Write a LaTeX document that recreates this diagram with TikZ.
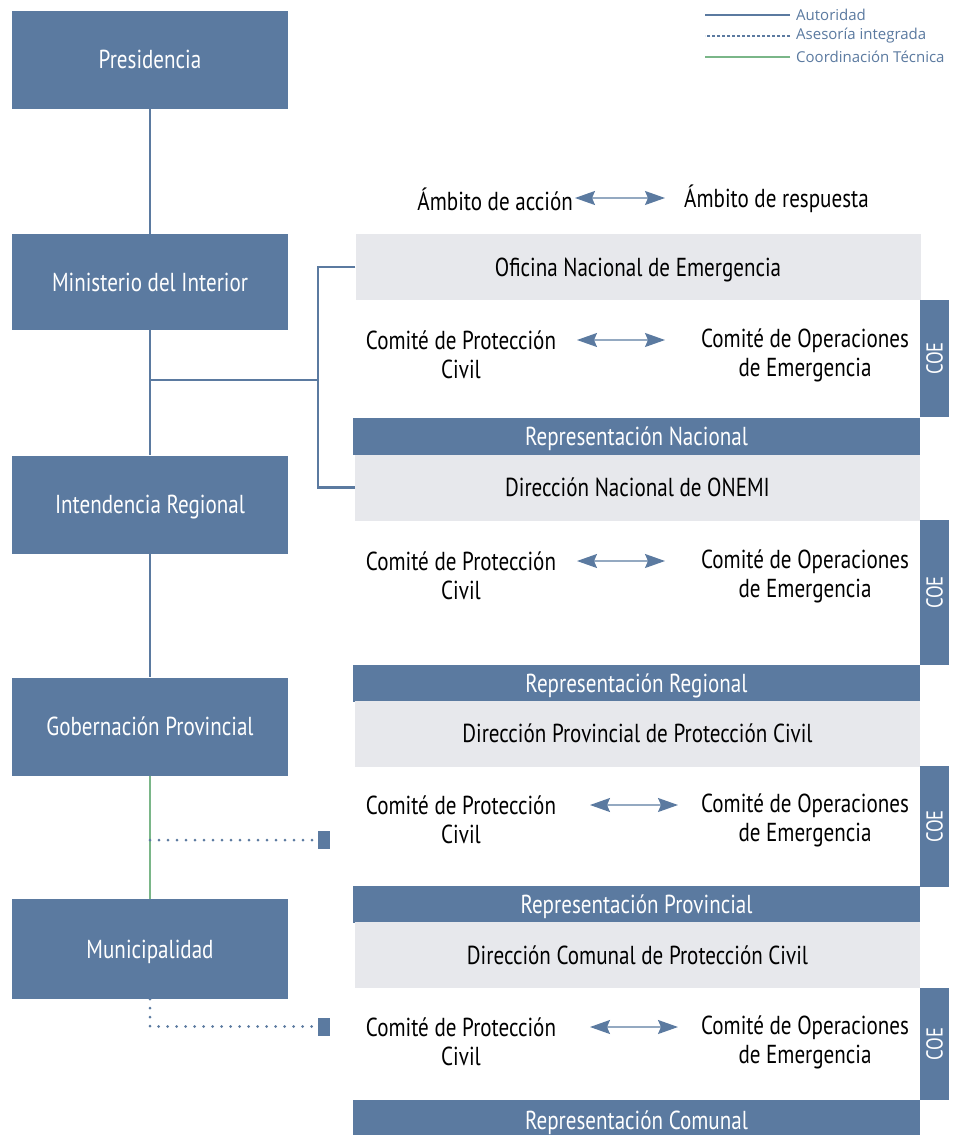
\documentclass[tikz,border=0pt]{standalone}
\usepackage{fontspec}
\setmainfont{PT Sans}
\newfontfamily\condfont{PT Sans}[FakeStretch=0.81]
\newfontfamily\legfont{Open Sans}
\usetikzlibrary{arrows.meta,positioning}
\definecolor{onemiblue}{RGB}{91,122,160}
\definecolor{onemigray}{RGB}{231,232,236}
\definecolor{onemigreen}{RGB}{122,182,136}

\begin{document}
\begin{tikzpicture}[x=1pt,y=-1pt,
  orgbox/.style={fill=onemiblue, text=white, minimum width=276pt, minimum height=98pt, inner sep=0pt, text depth=0pt, font=\condfont\fontsize{26}{30}\selectfont},
  grisbox/.style={fill=onemigray, text=black, minimum width=565pt, minimum height=66pt, inner sep=0pt, text depth=0pt, font=\condfont\fontsize{26}{30}\selectfont},
  repbar/.style={fill=onemiblue, text=white, minimum width=567pt, minimum height=37pt, inner sep=0pt, text depth=0pt, font=\condfont\fontsize{26}{30}\selectfont},
  coebox/.style={fill=onemiblue, text=white, rotate=90, minimum height=29pt, inner sep=0pt, font=\condfont\fontsize{23}{26}\selectfont},
  comtxt/.style={align=center, inner sep=0pt, font=\condfont\fontsize{26}{29}\selectfont},
  legtxt/.style={inner sep=0pt, text=onemiblue, font=\legfont\fontsize{15}{18}\selectfont},
  autoridad/.style={onemiblue, line width=2.8pt},
  coordtec/.style={onemigreen, line width=2.8pt},
  asesoria/.style={onemiblue, line width=3pt, line cap=round, dash pattern=on 0pt off 9pt},
  dblarrow/.style={{Stealth[length=20pt,width=14pt,inset=3pt,color=onemiblue]}-{Stealth[length=20pt,width=14pt,inset=3pt,color=onemiblue]}, onemiblue!65, line width=1.5pt}
]
\useasboundingbox[fill=white] (0,0) rectangle (971,1135);

% legend
\node[legtxt, anchor=west] (leg1) at (796,15) {Autoridad};
\node[legtxt, anchor=west] (leg2) at (796,36) {Asesoría integrada};
\node[legtxt, anchor=west] (leg3) at (796,57) {Coordinación Técnica};
\draw[onemiblue, line width=1.3pt] ([xshift=-6pt]leg1.west) -- ++(-85,0);
\draw[onemiblue, line width=1.2pt, dash pattern=on 3pt off 2pt] ([xshift=-6pt]leg2.west) -- ++(-85,0);
\draw[onemigreen, line width=1.3pt] ([xshift=-6pt]leg3.west) -- ++(-85,0);

% authority column
\node[orgbox] (pres) at (150,59.5) {Presidencia};
\node[orgbox, minimum height=96pt] (mint) at (150,282) {Ministerio del Interior};
\node[orgbox] (inten) at (150,504.5) {Intendencia Regional};
\node[orgbox] (gober) at (150,726.5) {Gobernación Provincial};
\node[orgbox, minimum height=100pt] (muni) at (150,949) {Municipalidad};
\draw[autoridad] (pres) -- (mint);
\draw[autoridad] (mint) -- (inten);
\draw[autoridad] (inten) -- (gober);
\draw[coordtec] (gober) -- (muni);

% action / response header
\node[comtxt, anchor=east] (accion) at (573,199) {Ámbito de acción};
\node[comtxt, anchor=west] (resp) at (684,199) {Ámbito de respuesta};
\coordinate (ha) at (575,198);
\coordinate (hb) at (665,198);
\draw[dblarrow] (ha) -- (hb);

% offices and representations
\node[grisbox] (onem) at (638,267) {Oficina Nacional de Emergencia};
\node[repbar] (rnac) at (636.5,436.5) {Representación Nacional};
\node[grisbox] (dnac) at (637.5,487.5) {Dirección Nacional de ONEMI};
\node[repbar] (rreg) at (636.5,683) {Representación Regional};
\node[grisbox] (dprov) at (637.5,733.5) {Dirección Provincial de Protección Civil};
\node[repbar] (rprov) at (636.5,904.5) {Representación Provincial};
\node[grisbox] (dcom) at (637.5,955) {Dirección Comunal de Protección Civil};
\node[repbar, minimum height=40pt] (rcom) at (636.5,1120) {Representación Comunal};

% committees
\foreach \n/\yt/\xa/\yc/\hc in {1/355/577/358.5/117, 2/576/577/592.5/145, 3/820/590/826.5/121, 4/1042/590/1044/112} {
  \node[comtxt] (cpc\n) at (461,\yt) {Comité de Protección\\Civil};
  \node[comtxt] (cop\n) at (805,\yt) {Comité de Operaciones\\de Emergencia};
  \coordinate (ai\n) at (\xa,\yt-15);
  \coordinate (ad\n) at (\xa+88,\yt-15);
  \draw[dblarrow] (ai\n) -- (ad\n);
  \node[coebox, minimum width={\hc pt}] (coe\n) at (934.5,\yc) {COE};
}

% links to ONEMI
\coordinate (rama) at (318,380);
\draw[autoridad] (rama -| mint.south) -- (rama);
\draw[autoridad] (onem.west) -| (rama) |- (dnac.west);

% advisory links
\node[fill=onemiblue, minimum width=12pt, minimum height=18pt, inner sep=0pt] (cuad1) at (324,840) {};
\node[fill=onemiblue, minimum width=12pt, minimum height=18pt, inner sep=0pt] (cuad2) at (324,1026.5) {};
\draw[asesoria] (cuad1.west -| gober.south) -- (cuad1.west);
\draw[asesoria] (muni.south) |- (cuad2.west);
\end{tikzpicture}
\end{document}
